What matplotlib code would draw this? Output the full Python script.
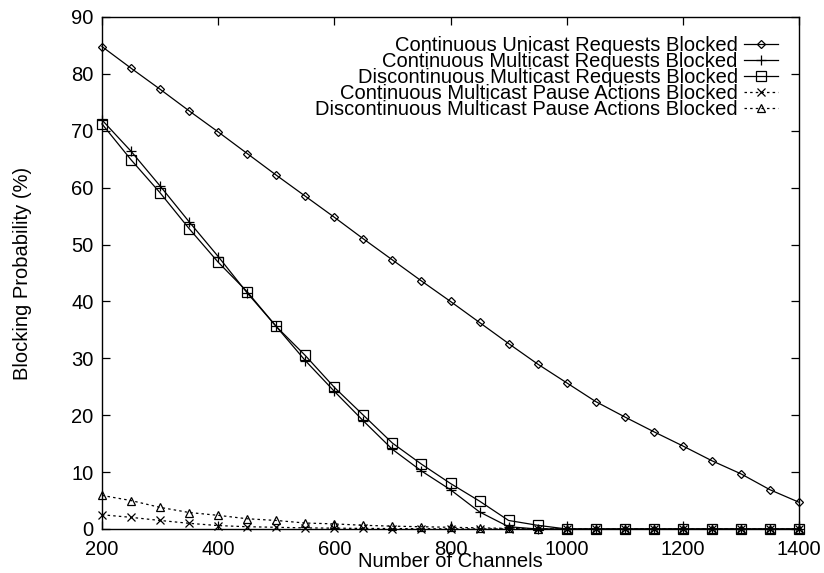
import matplotlib
matplotlib.use("Agg")
import matplotlib.pyplot as plt

channels = [200, 250, 300, 350, 400, 450, 500, 550, 600, 650, 700, 750, 800,
            850, 900, 950, 1000, 1050, 1100, 1150, 1200, 1250, 1300, 1350, 1400]

unicast_cont = [84.8, 81.0, 77.3, 73.5, 69.8, 66.0, 62.2, 58.5, 54.8, 51.0, 47.3, 43.6, 40.0,
                36.3, 32.6, 29.0, 25.7, 22.4, 19.7, 17.1, 14.6, 12.0, 9.7, 6.9, 4.7]
multicast_cont = [71.9, 66.4, 60.3, 54.0, 47.9, 41.5, 35.6, 29.6, 24.2, 19.0, 14.0, 10.2, 6.9,
                  3.0, 0.4, 0.0, 0.0, 0.0, 0.0, 0.0, 0.0, 0.0, 0.0, 0.0, 0.0]
multicast_disc = [71.2, 64.9, 59.1, 52.8, 46.9, 41.7, 35.6, 30.5, 24.9, 20.0, 15.1, 11.4, 8.0,
                  4.9, 1.5, 0.65, 0.0, 0.0, 0.0, 0.0, 0.0, 0.0, 0.0, 0.0, 0.0]
pause_cont = [2.5, 2.05, 1.5, 1.0, 0.6, 0.4, 0.3, 0.2, 0.15, 0.1, 0.08, 0.05, 0.03,
              0.02, 0.01, 0.0, 0.0, 0.0, 0.0, 0.0, 0.0, 0.0, 0.0, 0.0, 0.0]
pause_disc = [5.9, 5.0, 3.8, 2.9, 2.4, 1.8, 1.5, 1.05, 0.9, 0.65, 0.5, 0.4, 0.3,
              0.2, 0.1, 0.05, 0.0, 0.0, 0.0, 0.0, 0.0, 0.0, 0.0, 0.0, 0.0]

labels = ["Continuous Unicast Requests Blocked",
          "Continuous Multicast Requests Blocked",
          "Discontinuous Multicast Requests Blocked",
          "Continuous Multicast Pause Actions Blocked",
          "Discontinuous Multicast Pause Actions Blocked"]

plt.rcParams['font.family'] = ['Liberation Sans', 'DejaVu Sans']
plt.rcParams['font.size'] = 14.5

fig = plt.figure(figsize=(8.24, 5.73), dpi=100)
ax = fig.add_axes([102 / 824, 44 / 573, 697 / 824, 512 / 573])

dotted = (0, (2, 2.5))
common = dict(color="black", lw=0.9, markerfacecolor="none", markeredgecolor="black",
              markeredgewidth=0.9, clip_on=False)
ax.plot(channels, unicast_cont, marker="D", ms=4.5, ls="-", label=labels[0], **common)
ax.plot(channels, multicast_cont, marker="+", ms=7, ls="-", label=labels[1], **common)
ax.plot(channels, multicast_disc, marker="s", ms=7, ls="-", label=labels[2], **common)
ax.plot(channels, pause_cont, marker="x", ms=6, ls=dotted, label=labels[3], **common)
ax.plot(channels, pause_disc, marker="^", ms=5.5, ls=dotted, label=labels[4], **common)

ax.set_xlim(200, 1400)
ax.set_ylim(0, 90)
ax.set_xticks(range(200, 1401, 200))
ax.set_yticks(range(0, 91, 10))
ax.tick_params(direction="in", length=6, width=0.9, top=True, right=True)
ax.tick_params(axis="x", pad=8)
ax.tick_params(axis="y", pad=6)
for s in ax.spines.values():
    s.set_linewidth(1.0)

ax.set_xlabel("Number of Channels")
ax.set_ylabel("Blocking Probability (%)")
ax.xaxis.set_label_coords(0.5, -0.044)
ax.yaxis.set_label_coords(-0.100, 0.5)

leg = ax.legend(loc="upper right", bbox_to_anchor=(0.970, 0.962), markerfirst=False,
                frameon=False, labelspacing=-0.16, handlelength=1.7, handletextpad=0.3,
                borderpad=0, borderaxespad=0)

fig.savefig("out.png", dpi=100)
